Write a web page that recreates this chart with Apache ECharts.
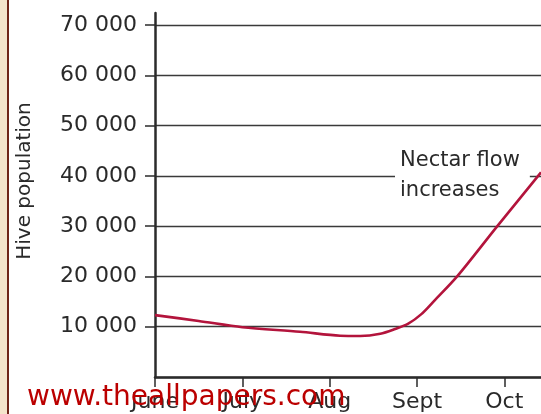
<!DOCTYPE html>
<html>
<head>
<meta charset="utf-8">
<script src="https://cdn.jsdelivr.net/npm/echarts@6/dist/echarts.min.js"></script>
<style>
html,body{margin:0;padding:0;background:#fff;}
#c{width:541px;height:414px;}
</style>
</head>
<body>
<div id="c"></div>
<script>
// Month categories (positions 0..4 on the x axis)
var months = ['June', 'July', 'Aug', 'Sept', 'Oct'];
// Curve sample positions (in months from June) and hive population values
var monthPos = [0, 0.5, 1, 1.66, 2.12, 2.35, 2.58, 2.75, 2.9, 3.05, 3.2, 3.46, 3.92, 4.42];
var hive = [12300, 11150, 9900, 9000, 8200, 8150, 8600, 9550, 10600, 12500, 15200, 20000, 30000, 40700];
var yTicks = [0, 10000, 20000, 30000, 40000, 50000, 60000, 70000];
var yTitle = 'Hive population';
var note = 'Nectar flow\nincreases';
var watermark = 'www.theallpapers.com';

var FONT = 'DejaVu Sans';
var chart = echarts.init(document.getElementById('c'), null, {renderer: 'canvas'});
var seriesData = monthPos.map(function (p, i) { return [p, hive[i]]; });

chart.setOption({
  animation: false,
  backgroundColor: '#ffffff',
  grid: [
    {left: 155, right: 0, top: 25, bottom: 37},
    {left: 155, right: 0, top: 13, bottom: 37}
  ],
  xAxis: [{
    gridIndex: 0,
    type: 'value',
    min: 0,
    max: 4.42,
    interval: 1,
    axisLine: {show: true, lineStyle: {color: '#2b2b2b', width: 2.5}},
    axisTick: {show: true, inside: false, length: 10, customValues: [0, 1, 2, 3, 4],
      lineStyle: {color: '#2b2b2b', width: 1.5}},
    axisLabel: {
      customValues: [0, 1, 2, 3, 4],
      margin: 14,
      color: '#2a2a2a', fontFamily: FONT, fontSize: 22,
      formatter: function (v) { return months[Math.round(v)] || ''; }
    },
    splitLine: {show: false}
  }, {
    gridIndex: 1, type: 'value', min: 0, max: 1, show: false
  }],
  yAxis: [{
    gridIndex: 0,
    type: 'value',
    min: yTicks[0],
    max: yTicks[yTicks.length - 1],
    interval: 10000,
    axisLine: {show: false},
    axisTick: {show: true, length: 10, lineStyle: {color: '#2b2b2b', width: 1.5}},
    axisLabel: {
      margin: 18,
      showMinLabel: false,
      color: '#2a2a2a', fontFamily: FONT, fontSize: 22,
      formatter: function (v) {
        if (v === 0) return '';
        var s = String(v);
        return s.length > 3 ? s.slice(0, s.length - 3) + ' ' + s.slice(-3) : s;
      }
    },
    splitLine: {show: true, lineStyle: {color: '#3a3a3a', width: 1.3}}
  }, {
    gridIndex: 1, type: 'value', min: 0, max: 1,
    axisLine: {show: true, lineStyle: {color: '#2b2b2b', width: 2.5}},
    axisTick: {show: false}, axisLabel: {show: false}, splitLine: {show: false}
  }],
  series: [{
    type: 'line',
    xAxisIndex: 0, yAxisIndex: 0,
    data: seriesData,
    smooth: 0.3,
    showSymbol: false,
    symbol: 'none',
    lineStyle: {color: '#b3143c', width: 2.6},
    z: 5
  }],
  graphic: [
    {type: 'rect', left: 0, top: 0, shape: {width: 7, height: 414}, style: {fill: '#f4e4cb'}, silent: true},
    {type: 'rect', left: 7, top: 0, shape: {width: 2, height: 414}, style: {fill: '#6e2418'}, silent: true},
    {type: 'text', x: 25, y: 181, rotation: Math.PI / 2,
      style: {text: yTitle, font: '20px "' + FONT + '"', fill: '#2a2a2a', align: 'center', verticalAlign: 'middle'}},
    {type: 'text', x: 395, y: 146, z: 1,
      style: {text: note, font: '21px "' + FONT + '"', fill: '#2a2a2a', lineHeight: 30,
        backgroundColor: '#ffffff', padding: [0, 10, 0, 5], align: 'left', verticalAlign: 'top'}},
    {type: 'text', x: 27, y: 398, z: 20,
      style: {text: watermark, font: '28px "' + FONT + '"', fill: '#bb0000', align: 'left', verticalAlign: 'middle'}}
  ]
});
</script>
</body>
</html>
